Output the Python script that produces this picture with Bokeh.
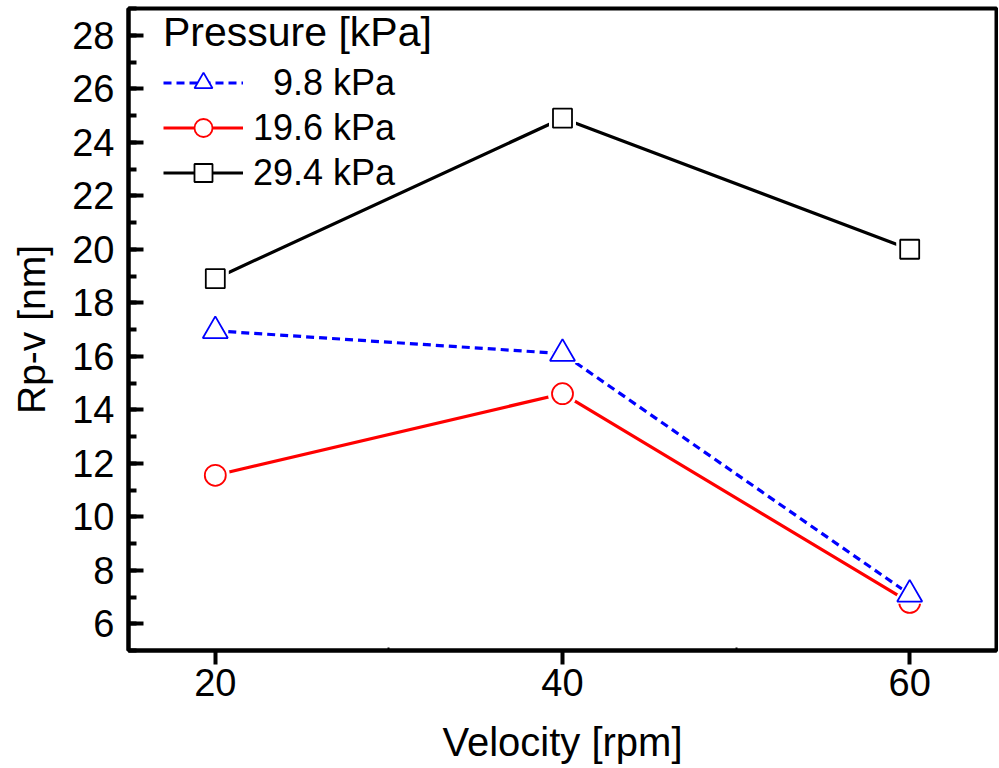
from bokeh.plotting import figure
from bokeh.models import (Range1d, SingleIntervalTicker, FixedTicker, Legend,
                          LegendItem)
from bokeh.embed import file_html
from bokeh.resources import INLINE

# ---- data ----
velocity = [20, 40, 60]
rpv_9_8 = [16.95, 16.1, 7.1]
rpv_19_6 = [11.55, 14.6, 6.8]
rpv_29_4 = [18.9, 24.9, 20.0]
x_ticks = [20, 40, 60]
x_minor_ticks = [30, 50]
series_labels = ["\u20079.8 kPa", "19.6 kPa", "29.4 kPa"]
legend_title = "Pressure [kPa]"
x_title = "Velocity [rpm]"
y_title = "Rp-v [nm]"

FONT = "Liberation Sans"

p = figure(width=998, height=766,
           x_range=Range1d(15, 65), y_range=Range1d(5, 29),
           output_backend="svg", toolbar_location=None,
           min_border_left=128, min_border_right=2, min_border_top=8,
           min_border_bottom=10)
p.grid.visible = False
p.outline_line_color = "black"
p.outline_line_width = 4
p.background_fill_color = "white"
p.border_fill_color = "white"

# x axis
xa = p.xaxis[0]
xa.ticker = FixedTicker(ticks=x_ticks, minor_ticks=x_minor_ticks)
xa.axis_line_width = 4
xa.major_tick_in = 0
xa.major_tick_out = 14
xa.major_tick_line_width = 4
xa.minor_tick_in = 3
xa.minor_tick_out = 0
xa.minor_tick_line_width = 2
xa.major_label_text_font = FONT
xa.major_label_text_font_size = "38px"
xa.major_label_text_color = "black"
xa.major_label_standoff = 4
xa.axis_label = x_title
xa.axis_label_text_font = FONT
xa.axis_label_text_font_size = "40px"
xa.axis_label_text_font_style = "normal"
xa.axis_label_text_color = "black"
xa.axis_label_standoff = 21

# y axis
ya = p.yaxis[0]
ya.ticker = SingleIntervalTicker(interval=2, num_minor_ticks=2)
ya.axis_line_width = 4
ya.major_tick_in = 15
ya.major_tick_out = 0
ya.major_tick_line_width = 4
ya.minor_tick_in = 8
ya.minor_tick_out = 0
ya.minor_tick_line_width = 4
ya.major_label_text_font = FONT
ya.major_label_text_font_size = "38px"
ya.major_label_text_color = "black"
ya.major_label_standoff = 14
ya.axis_label = y_title
ya.axis_label_text_font = FONT
ya.axis_label_text_font_size = "39px"
ya.axis_label_text_font_style = "normal"
ya.axis_label_text_color = "black"
ya.axis_label_standoff = 16

# ---- series ----
specs = [
    (rpv_29_4, "black", "square", 19, "solid"),
    (rpv_19_6, "#ff0000", "circle", 21, "solid"),
    (rpv_9_8, "#0000ff", "triangle", 25, "8 5"),
]
items = {}
for vals, col, mk, sz, dash in specs:
    ln = p.line(velocity, vals, line_color=col, line_width=3.2, line_dash=dash)
    halo = p.scatter(velocity, vals, marker=mk, size=sz + 8, fill_color="white",
                     line_color=None)
    mr = p.scatter(velocity, vals, marker=mk, size=sz, fill_color="white",
                   line_color=col, line_width=1.8)
    items[col] = [ln, halo, mr]

legend = Legend(
    items=[LegendItem(label=series_labels[0], renderers=items["#0000ff"]),
           LegendItem(label=series_labels[1], renderers=items["#ff0000"]),
           LegendItem(label=series_labels[2], renderers=items["black"])],
    location=(35, 455),
    title=legend_title,
    title_text_font=FONT, title_text_font_size="41px",
    title_text_font_style="normal", title_text_color="black",
    title_standoff=4,
    label_text_font=FONT, label_text_font_size="36px", label_text_color="black",
    label_height=45, glyph_height=45, glyph_width=80, label_standoff=10,
    spacing=0, padding=0, margin=0,
    border_line_color=None, background_fill_alpha=0,
)
p.add_layout(legend, "center")

open("out.html", "w").write(file_html(p, INLINE))
